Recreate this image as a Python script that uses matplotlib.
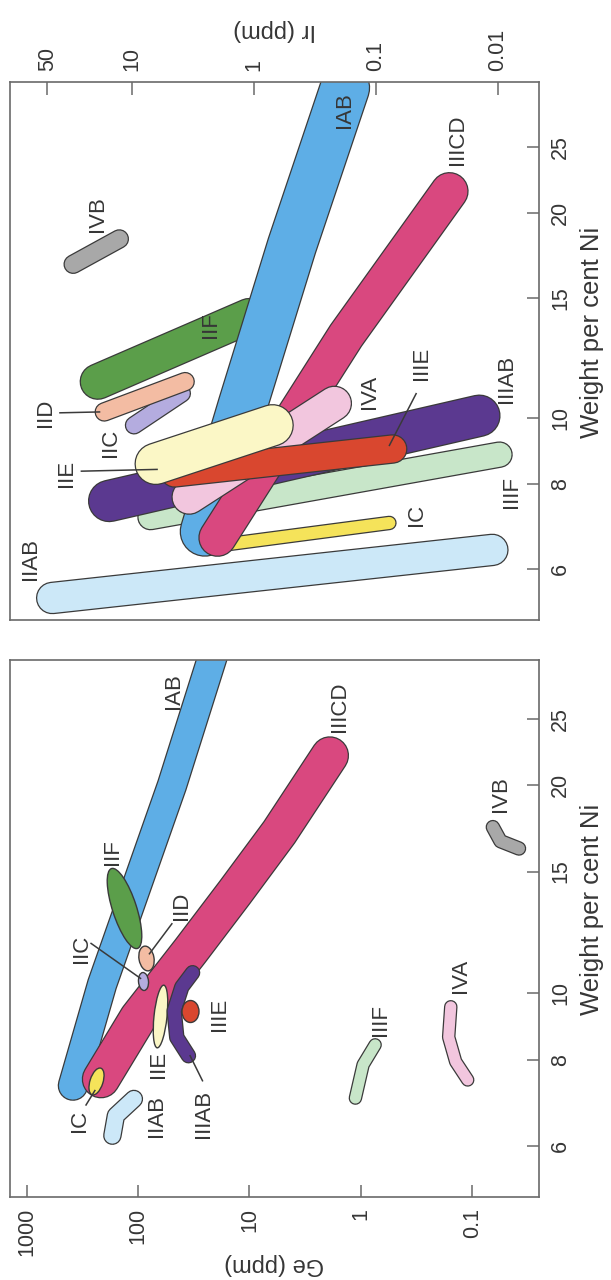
import numpy as np
import matplotlib
matplotlib.use("Agg")
import matplotlib.pyplot as plt
import matplotlib.patheffects as pe
from matplotlib.markers import MarkerStyle
from matplotlib.path import Path
from matplotlib.transforms import Affine2D
from matplotlib.ticker import NullLocator

plt.rcParams["font.family"] = ["Liberation Sans", "DejaVu Sans"]

EDGE = "#3a3a3a"
TEXT = "#363636"
FRAME = "#6a6a6a"
DPI = 100
PT = 72 / DPI  # pixel -> point

C_IAB = "#5eaee6"
C_IIICD = "#d9487f"
C_IIAB = "#cce8f8"
C_IC = "#f5e35a"
C_IIF = "#5b9e4a"
C_IID = "#f3bca3"
C_IIC = "#b4acdf"
C_IIE = "#fbf7c6"
C_IIIAB = "#5b3990"
C_IIIE = "#d9472f"
C_IIIF = "#c8e6c9"
C_IVA = "#f2c6de"
C_IVB = "#a8a8a8"

# ── Ni axis (both panels) ───────────────────────────────────────────────
NI_TICKS = [6, 8, 10, 15, 20, 25]
NI_LABELS = ["6", "8", "10", "15", "20", "25"]

# ── Ge panel data (Ni wt%, Ge ppm) ──────────────────────────────────────
GE_TICKS = [1000, 100, 10, 1, 0.1]
GE_LABELS = ["1000", "100", "10", "1", "0.1"]

GE_IAB_NI = [7.34, 10.3, 20.0, 30.4, 36.6]
GE_IAB_GE = [384, 210, 49.6, 21.9, 15.3]
GE_IIICD_NI = [7.5, 9.2, 11.5, 14.0, 17.1, 22.1]
GE_IIICD_GE = [215, 100, 34, 13.5, 5.4, 1.9]
GE_IIIAB_NI = [10.7, 10.2, 9.42, 8.62, 8.11]
GE_IIIAB_GE = [32.4, 40.5, 47.4, 44.9, 35.3]
GE_IIAB_NI = [7.02, 6.64, 6.21]
GE_IIAB_GE = [109, 158, 170]
GE_IIIF_NI = [8.41, 7.87, 7.04]
GE_IIIF_GE = [0.745, 0.955, 1.12]
GE_IVA_NI = [9.55, 8.63, 7.95, 7.48]
GE_IVA_GE = [0.156, 0.163, 0.141, 0.110]
GE_IVB_NI = [17.4, 16.6, 16.2]
GE_IVB_GE = [0.0654, 0.0558, 0.0381]
# small groups drawn as ellipses: centre Ni, centre Ge
GE_IC = (7.46, 239)
GE_IIF = (13.3, 134)
GE_IID = (11.25, 84.5)
GE_IIC = (10.4, 90.6)
GE_IIE = (9.27, 64)
GE_IIIE = (9.42, 34.1)

GE_LABEL_TEXT = ["IAB", "IIF", "IID", "IIC", "IIE", "IIIE", "IIAB", "IIIAB",
                 "IC", "IIICD", "IVB", "IIIF", "IVA"]
GE_LABEL_GE = [48, 170, 40.5, 324, 65, 18.5, 67.6, 26, 336, 1.56, 0.0558, 0.673, 0.127]
GE_LABEL_NI = [27.4, 16.0, 13.4, 11.6, 7.89, 9.31, 6.64, 6.67, 6.53, 26.0, 19.4, 9.14, 10.6]
# leader lines: (Ge start, Ge end), (Ni start, Ni end)
GE_LEADERS = [((49.7, 79), (12.6, 11.4)),      # IID
              ((264, 95), (11.8, 10.5)),       # IIC
              ((34.1, 26.4), (8.11, 7.46)),    # IIIAB
              ((293, 244), (6.88, 7.22))]      # IC

# ── Ir panel data (Ni wt%, Ir ppm) ──────────────────────────────────────
IR_TICKS = [50, 10, 1, 0.1, 0.01]
IR_LABELS = ["50", "10", "1", "0.1", "0.01"]

IR_IIAB_NI = [5.44, 6.40]
IR_IIAB_IR = [45.5, 0.0111]
IR_IIIF_NI = [7.15, 8.83]
IR_IIIF_IR = [7.1, 0.0097]
IR_IC_NI = [6.5, 7.01]
IR_IC_IR = [1.94, 0.0777]
IR_IIIAB_NI = [7.55, 10.07]
IR_IIIAB_IR = [15.5, 0.0142]
IR_IAB_NI = [6.81, 10.45, 17.9, 30.5]
IR_IAB_IR = [2.54, 1.24, 0.49, 0.180]
IR_IIICD_NI = [6.67, 13.2, 21.5]
IR_IIICD_IR = [2.0, 0.1765, 0.025]
IR_IVA_NI = [7.65, 10.5]
IR_IVA_IR = [3.42, 0.22]
IR_IIIE_NI = [8.3, 9.0]
IR_IIIE_IR = [4.5, 0.073]
IR_IIE_NI = [8.56, 9.75]
IR_IIE_IR = [6.43, 0.707]
IR_IIF_NI = [11.3, 14.1]
IR_IIF_IR = [19.2, 1.1]
IR_IID_NI = [10.2, 11.3]
IR_IID_IR = [17.0, 3.69]
IR_IIC_NI = [9.75, 10.86]
IR_IIC_IR = [9.69, 3.93]
IR_IVB_NI = [16.8, 18.3]
IR_IVB_IR = [30.6, 12.8]

IR_LABEL_TEXT = ["IAB", "IIICD", "IIF", "IID", "IIC", "IIE", "IIIE", "IIIAB",
                 "IVA", "IIIF", "IC", "IIAB", "IVB"]
IR_LABEL_IR = [0.182, 0.0213, 2.27, 52, 15.0, 34.7, 0.0427, 0.00855, 0.1135,
               0.00777, 0.0469, 68, 19.2]
IR_LABEL_NI = [28.3, 25.6, 13.7, 10.17, 9.2, 8.30, 12.0, 11.4, 10.9, 7.79, 7.19, 6.2, 19.9]
IR_LEADERS = [((39.3, 18.6), (10.17, 10.2)),    # IID
              ((26.2, 6.27), (8.35, 8.4)),      # IIE
              ((0.0469, 0.0777), (10.85, 9.11))]  # IIIE


def band(ax, xs, ys, width_px, color, z):
    """Толстая полоса с круглыми концами и тёмным контуром."""
    w = width_px * PT
    ax.plot(xs, ys, color=color, lw=w, solid_capstyle="round",
            solid_joinstyle="round", zorder=z,
            path_effects=[pe.Stroke(linewidth=w + 1.8, foreground=EDGE), pe.Normal()])


def blob(ax, x, y, major_px, minor_px, angle, color, z):
    """Эллипс фиксированного размера в пикселях."""
    p = Affine2D().scale(1.0, minor_px / major_px).rotate_deg(angle).transform_path(Path.unit_circle())
    r = np.abs(p.vertices).max()
    ax.plot([x], [y], linestyle="none", marker=MarkerStyle(p),
            markersize=major_px * PT * r, markerfacecolor=color,
            markeredgecolor=EDGE, markeredgewidth=1.0, zorder=z)


def style_axes(ax, xticks, xlabels, top):
    ax.set_xscale("log")
    ax.set_yscale("log")
    ax.set_xticks(xticks)
    ax.set_xticklabels(xlabels, rotation=90)
    ax.set_yticks(NI_TICKS)
    ax.set_yticklabels(NI_LABELS, rotation=90, va="center")
    ax.xaxis.set_minor_locator(NullLocator())
    ax.yaxis.set_minor_locator(NullLocator())
    if top:
        ax.xaxis.tick_top()
    ax.yaxis.tick_right()
    ax.tick_params(direction="in", length=9, width=1.1, color=FRAME,
                   labelsize=15.5, labelcolor=TEXT, pad=8)
    for s in ax.spines.values():
        s.set_color(FRAME)
        s.set_linewidth(1.2)
        s.set_zorder(50)
    ax.text(1.100, 0.535, "Weight per cent Ni", rotation=90, transform=ax.transAxes,
            ha="center", va="center", fontsize=18.5, color=TEXT)


fig = plt.figure(figsize=(6.11, 12.80), dpi=DPI)
fig.patch.set_facecolor("white")

# ── Ir panel (top) ──────────────────────────────────────────────────────
ax1 = fig.add_axes([10 / 611, 1 - 620 / 1280, 529 / 611, 538 / 1280])
ax1.set_xlim(101, 0.0046)
ax1.set_ylim(5.05, 31.1)
style_axes(ax1, IR_TICKS, IR_LABELS, top=True)
ax1.text(0.5, 1.096, "Ir (ppm)", rotation=180, transform=ax1.transAxes,
         ha="center", va="center", fontsize=17, color=TEXT)

band(ax1, IR_IIAB_IR, IR_IIAB_NI, 30, C_IIAB, 3)
band(ax1, IR_IIIF_IR, IR_IIIF_NI, 24, C_IIIF, 4)
band(ax1, IR_IC_IR, IR_IC_NI, 12, C_IC, 5)
band(ax1, IR_IIIAB_IR, IR_IIIAB_NI, 40, C_IIIAB, 6)
band(ax1, IR_IIF_IR, IR_IIF_NI, 34, C_IIF, 7)
band(ax1, IR_IAB_IR, IR_IAB_NI, 48, C_IAB, 8)
band(ax1, IR_IIICD_IR, IR_IIICD_NI, 36, C_IIICD, 9)
band(ax1, IR_IVA_IR, IR_IVA_NI, 33, C_IVA, 10)
band(ax1, IR_IIIE_IR, IR_IIIE_NI, 27, C_IIIE, 11)
band(ax1, IR_IIE_IR, IR_IIE_NI, 40, C_IIE, 12)
band(ax1, IR_IIC_IR, IR_IIC_NI, 16, C_IIC, 13)
band(ax1, IR_IID_IR, IR_IID_NI, 17, C_IID, 14)
band(ax1, IR_IVB_IR, IR_IVB_NI, 17, C_IVB, 15)

for (xs, ys) in IR_LEADERS:
    ax1.plot(xs, ys, color=EDGE, lw=1.1, zorder=30)
for s, x, y in zip(IR_LABEL_TEXT, IR_LABEL_IR, IR_LABEL_NI):
    ax1.text(x, y, s, rotation=90, ha="center", va="center", fontsize=16,
             color=TEXT, zorder=40)

# ── Ge panel (bottom) ───────────────────────────────────────────────────
ax2 = fig.add_axes([10 / 611, 1 - 1197 / 1280, 529 / 611, 537 / 1280])
ax2.set_xlim(1410, 0.0252)
ax2.set_ylim(5.06, 30.4)
style_axes(ax2, GE_TICKS, GE_LABELS, top=False)
ax2.text(0.5, -0.125, "Ge (ppm)", rotation=180, transform=ax2.transAxes,
         ha="center", va="center", fontsize=17, color=TEXT)

band(ax2, GE_IAB_GE, GE_IAB_NI, 28, C_IAB, 3)
band(ax2, GE_IIICD_GE, GE_IIICD_NI, 36, C_IIICD, 4)
blob(ax2, GE_IC[1], GE_IC[0], 28, 13, 72, C_IC, 5)
blob(ax2, GE_IIF[1], GE_IIF[0], 84, 24, 108, C_IIF, 6)
blob(ax2, GE_IID[1], GE_IID[0], 25, 15, 100, C_IID, 7)
blob(ax2, GE_IIC[1], GE_IIC[0], 18, 10, 95, C_IIC, 8)
blob(ax2, GE_IIE[1], GE_IIE[0], 63, 13, 84, C_IIE, 9)
band(ax2, GE_IIIAB_GE, GE_IIIAB_NI, 13, C_IIIAB, 10)
blob(ax2, GE_IIIE[1], GE_IIIE[0], 22, 17, 90, C_IIIE, 11)
band(ax2, GE_IIAB_GE, GE_IIAB_NI, 16, C_IIAB, 12)
band(ax2, GE_IIIF_GE, GE_IIIF_NI, 11, C_IIIF, 13)
band(ax2, GE_IVA_GE, GE_IVA_NI, 11, C_IVA, 14)
band(ax2, GE_IVB_GE, GE_IVB_NI, 12, C_IVB, 15)

for (xs, ys) in GE_LEADERS:
    ax2.plot(xs, ys, color=EDGE, lw=1.1, zorder=30)
for s, x, y in zip(GE_LABEL_TEXT, GE_LABEL_GE, GE_LABEL_NI):
    ax2.text(x, y, s, rotation=90, ha="center", va="center", fontsize=16,
             color=TEXT, zorder=40)

fig.savefig("out.png", dpi=DPI, facecolor="white")
